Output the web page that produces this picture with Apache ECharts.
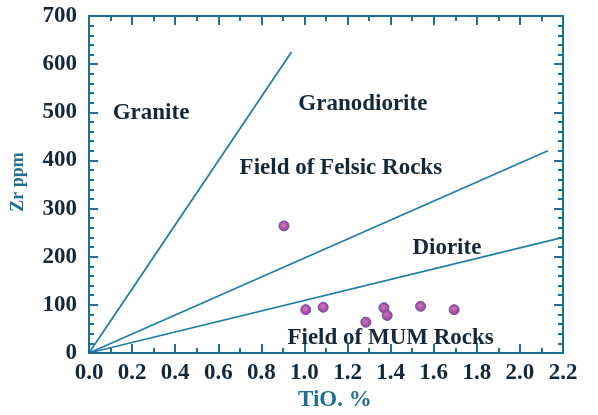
<!DOCTYPE html>
<html>
<head>
<meta charset="utf-8">
<script src="https://cdn.jsdelivr.net/npm/echarts@6/dist/echarts.min.js"></script>
<style>html,body{margin:0;padding:0;background:#fff;}#c{width:598px;height:415px;}</style>
</head>
<body>
<div id="c"></div>
<script>
// Data
const tioValues = [0.905, 1.006, 1.087, 1.285, 1.369, 1.384, 1.539, 1.695];
const zrValues  = [264, 90, 95, 64, 94, 78, 97, 90];
const graniteLine = [[0, 0], [0.94, 625]];
const felsicLine  = [[0, 0], [2.13, 420]];
const mumLine     = [[0, 0], [2.2, 240]];
const fieldNames = ['Granite', 'Granodiorite', 'Field of Felsic Rocks', 'Diorite', 'Field of MUM Rocks'];
const fieldX = [0.288, 1.271, 1.169, 1.661, 1.40];
const fieldY = [498, 517, 384, 218, 31];
const xTicks = [0, 0.2, 0.4, 0.6, 0.8, 1.0, 1.2, 1.4, 1.6, 1.8, 2.0, 2.2];
const yTicks = [0, 100, 200, 300, 400, 500, 600, 700];

const axisColor = '#1f6f92';
const textColor = '#13293a';
const serif = '"Liberation Serif", "DejaVu Serif", serif';

const W = 598, H = 415;
const gridBox = {left: 89, right: 35, top: 16, bottom: 62};
const xMin = xTicks[0], xMax = xTicks[xTicks.length - 1];
const yMin = yTicks[0], yMax = yTicks[yTicks.length - 1];
const xPerPx = (xMax - xMin) / (W - gridBox.left - gridBox.right);
const yPerPx = (yMax - yMin) / (H - gridBox.top - gridBox.bottom);
const MAJOR = 9, MINOR = 5;

// Tick marks as short segments on all four sides (through the chart's own scales)
const tickLines = [];
function xTick(v, len) {
  tickLines.push({coords: [[v, yMin], [v, yMin + len * yPerPx]]});
  tickLines.push({coords: [[v, yMax], [v, yMax - len * yPerPx]]});
}
function yTick(v, len) {
  tickLines.push({coords: [[xMin, v], [xMin + len * xPerPx, v]]});
  tickLines.push({coords: [[xMax, v], [xMax - len * xPerPx, v]]});
}
xTicks.forEach((v, i) => {
  xTick(v, MAJOR);
  if (i < xTicks.length - 1) xTick((v + xTicks[i + 1]) / 2, MINOR);
});
yTicks.forEach((v, i) => {
  yTick(v, MAJOR);
  if (i < yTicks.length - 1) {
    const step = (yTicks[i + 1] - v) / 5;
    for (let k = 1; k < 5; k++) yTick(v + k * step, MINOR);
  }
});

const chart = echarts.init(document.getElementById('c'), null, {renderer: 'canvas'});

const lineStyle = {color: '#1f7fa6', width: 1.8};
const labelFont = {color: textColor, fontFamily: serif, fontWeight: 'bold', fontSize: 23};

chart.setOption({
  animation: false,
  backgroundColor: '#ffffff',
  grid: Object.assign({containLabel: false, show: true, borderColor: axisColor, borderWidth: 2}, gridBox),
  xAxis: {
    type: 'value', min: xMin, max: xMax, interval: 0.2,
    axisLine: {show: true, onZero: false, lineStyle: {color: axisColor, width: 2}},
    axisTick: {show: true, inside: true, length: MAJOR, lineStyle: {color: axisColor, width: 2}},
    minorTick: {show: true, splitNumber: 2, length: MINOR, lineStyle: {color: axisColor, width: 2}},
    splitLine: {show: false},
    axisLabel: Object.assign({margin: 9, formatter: v => v.toFixed(1)}, labelFont)
  },
  yAxis: {
    type: 'value', min: yMin, max: yMax, interval: 100,
    axisLine: {show: true, onZero: false, lineStyle: {color: axisColor, width: 2}},
    axisTick: {show: true, inside: true, length: MAJOR, lineStyle: {color: axisColor, width: 2}},
    minorTick: {show: true, splitNumber: 5, length: MINOR, lineStyle: {color: axisColor, width: 2}},
    splitLine: {show: false},
    axisLabel: Object.assign({margin: 12}, labelFont)
  },
  graphic: [
    {type: 'text', left: 298, top: 389, style: {text: 'TiO. %', fill: axisColor, font: 'bold 23px ' + serif}},
    {type: 'text', x: 18, y: 182, rotation: Math.PI / 2, style: {text: 'Zr ppm', fill: axisColor, font: 'bold 18px ' + serif, align: 'center', verticalAlign: 'middle'}}
  ],
  series: [
    {type: 'lines', coordinateSystem: 'cartesian2d', data: tickLines, silent: true,
     lineStyle: {color: axisColor, width: 2, opacity: 1}, z: 10},
    {type: 'line', data: graniteLine, symbol: 'none', lineStyle: lineStyle, silent: true},
    {type: 'line', data: felsicLine, symbol: 'none', lineStyle: lineStyle, silent: true},
    {type: 'line', data: mumLine, symbol: 'none', lineStyle: lineStyle, silent: true},
    {
      type: 'scatter', symbol: 'circle', symbolSize: 10,
      data: tioValues.map((x, i) => [x, zrValues[i]]),
      itemStyle: {
        opacity: 1,
        color: {type: 'radial', x: 0.45, y: 0.45, r: 0.6, colorStops: [
          {offset: 0, color: '#c97cc0'}, {offset: 0.6, color: '#a84e9e'}, {offset: 1, color: '#84409a'}]},
        borderColor: '#6f4fa8', borderWidth: 1
      },
      z: 5
    },
    {
      type: 'scatter', symbolSize: 0, silent: true, itemStyle: {opacity: 1},
      data: fieldNames.map((n, i) => ({name: n, value: [fieldX[i], fieldY[i]]})),
      label: Object.assign({show: true, position: 'inside', formatter: p => p.name,
        textBorderWidth: 0, textShadowBlur: 0}, labelFont),
      z: 6
    }
  ]
});
</script>
</body>
</html>
